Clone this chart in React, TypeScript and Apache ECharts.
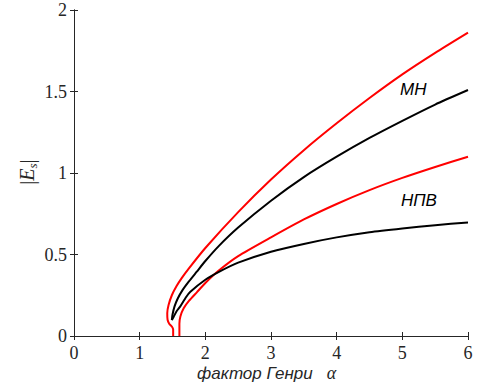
import React, { useEffect, useRef } from "react";
import * as echarts from "echarts";

const xTicks = [0, 1, 2, 3, 4, 5, 6];
const yTicks = [0, 0.5, 1, 1.5, 2];

// МН, red (outer) curve: [alpha, |Es|]
const mhRed: number[][] = [
  [1.51, 0], [1.51, 0.04], [1.49, 0.058], [1.45, 0.075], [1.425, 0.1], [1.42, 0.14],
  [1.44, 0.19], [1.49, 0.25], [1.56, 0.305], [1.64, 0.355], [1.75, 0.415], [2.0, 0.54],
  [2.5, 0.76], [3.0, 0.96], [3.5, 1.14], [4.0, 1.305], [4.5, 1.46],
  [5.0, 1.605], [5.5, 1.737], [6, 1.861],
];
// МН, black curve
const mhBlack: number[][] = [
  [1.49, 0.098], [1.5, 0.13], [1.53, 0.18], [1.58, 0.23], [1.65, 0.28],
  [1.75, 0.335], [1.87, 0.395], [2.0, 0.46], [2.2, 0.55], [2.5, 0.665],
  [3.0, 0.83], [3.5, 0.975], [4.0, 1.1], [4.5, 1.215], [5.0, 1.32],
  [5.5, 1.42], [6, 1.509],
];
// НПВ, red curve
const npvRed: number[][] = [
  [1.605, 0], [1.605, 0.075], [1.62, 0.12], [1.67, 0.17], [1.75, 0.215],
  [1.87, 0.268], [2.0, 0.325], [2.2, 0.4], [2.5, 0.49], [3.0, 0.605],
  [3.5, 0.715], [4.0, 0.81], [4.5, 0.895], [5.0, 0.97], [5.5, 1.037], [6, 1.1],
];
// НПВ, black curve
const npvBlack: number[][] = [
  [1.49, 0.098], [1.52, 0.12], [1.56, 0.15], [1.616, 0.18], [1.7, 0.235],
  [1.768, 0.27], [2.0, 0.345], [2.2, 0.392], [2.5, 0.45], [3.0, 0.517],
  [3.5, 0.565], [4.0, 0.605], [4.5, 0.637], [5.0, 0.66], [5.5, 0.68], [6, 0.697],
];

const AX = "#262626";
const SERIF = "'Liberation Serif', 'Times New Roman', serif";
const SANS = "'Liberation Sans', Arial, sans-serif";

export default function App() {
  const ref = useRef<HTMLDivElement>(null);
  useEffect(() => {
    if (!ref.current) return;
    const chart = echarts.init(ref.current, null, { renderer: "svg" });
    const line = (data: number[][], color: string) => ({
      type: "line",
      data,
      showSymbol: false,
      smooth: 0.2,
      lineStyle: { color, width: 2 },
      itemStyle: { color },
      z: color === "#000000" ? 3 : 2,
    });
    const tickLabel = {
      fontFamily: SERIF,
      fontSize: 18,
      color: AX,
    };
    const tick = { show: true, inside: true, length: 4, lineStyle: { color: AX } };
    const axLine = { show: true, lineStyle: { color: AX, width: 1 } };
    chart.setOption({
      animation: false,
      textStyle: { fontFamily: SERIF },
      grid: { left: 74, right: 9, top: 10, bottom: 51 },
      xAxis: [
        {
          type: "value", min: 0, max: 6, interval: 1,
          axisLine: axLine, axisTick: tick,
          axisLabel: { ...tickLabel, margin: 8, formatter: (v: number) => (xTicks.includes(v) ? String(v) : "") },
          splitLine: { show: false },
        },
        {
          type: "value", min: 0, max: 6, interval: 1, position: "top",
          axisLine: axLine, axisTick: tick,
          axisLabel: { show: false },
          splitLine: { show: false },
        },
      ],
      yAxis: [
        {
          type: "value", min: 0, max: 2, interval: 0.5,
          axisLine: axLine, axisTick: tick,
          axisLabel: { ...tickLabel, margin: 7, formatter: (v: number) => (yTicks.includes(v) ? String(v) : "") },
          splitLine: { show: false },
        },
        {
          type: "value", min: 0, max: 2, interval: 0.5, position: "right",
          axisLine: axLine, axisTick: tick,
          axisLabel: { show: false },
          splitLine: { show: false },
        },
      ],
      series: [
        line(mhRed, "#ff0000"),
        line(npvRed, "#ff0000"),
        line(mhBlack, "#000000"),
        line(npvBlack, "#000000"),
      ],
      graphic: [
        {
          type: "text", left: 197, top: 364,
          style: {
            text: "{a|фактор Генри}{b|α}",
            rich: {
              a: { fontFamily: SANS, fontStyle: "italic", fontSize: 17, fill: AX },
              b: { fontFamily: SERIF, fontStyle: "italic", fontSize: 18, fill: AX, padding: [0, 0, 0, 14] },
            },
          },
        },
        {
          type: "text", x: 27, y: 172, rotation: Math.PI / 2,
          style: {
            text: "{a||}{e|E}{s|s}{a||}",
            align: "center", verticalAlign: "middle",
            rich: {
              a: { fontFamily: SERIF, fontSize: 20, fill: AX },
              e: { fontFamily: SERIF, fontStyle: "italic", fontSize: 20, fill: AX },
              s: { fontFamily: SERIF, fontStyle: "italic", fontSize: 13, fill: AX, padding: [10, 0, 0, 0] },
            },
          },
        },
        {
          type: "text", left: 400, top: 81,
          style: { text: "МН", fontFamily: SANS, fontStyle: "italic", fontSize: 17, fill: "#000" },
        },
        {
          type: "text", left: 401, top: 192,
          style: { text: "НПВ", fontFamily: SANS, fontStyle: "italic", fontSize: 17, fill: "#000" },
        },
      ],
    });
    return () => chart.dispose();
  }, []);
  return <div ref={ref} style={{ width: 477, height: 387, position: "absolute", left: 0, top: 0 }} />;
}
